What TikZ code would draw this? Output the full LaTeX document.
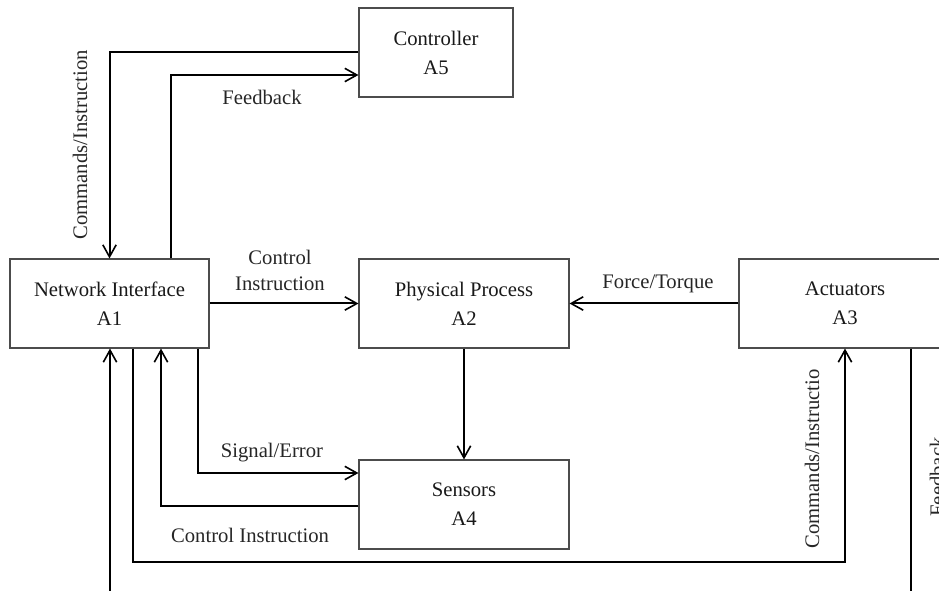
\documentclass[tikz,border=0pt]{standalone}
\usepackage{fontspec}
\setmainfont{Liberation Serif}
\usetikzlibrary{arrows.meta}
\begin{document}
\begin{tikzpicture}[x=0.75pt,y=-0.75pt,
  box/.style={draw=black!70, line width=0.8pt, fill=white, align=center, minimum height=66.75pt, inner sep=0pt,
    font=\fontsize{15.5}{21.75}\selectfont, text=black!90},
  arr/.style={line width=1.5pt, -{Straight Barb[length=9pt,width=10pt,line width=1.2pt]}},
  ln/.style={line width=1.5pt},
  lbl/.style={font=\fontsize{15.5}{19.5}\selectfont, text=black!85, align=center, inner sep=0pt}]
\useasboundingbox (0,0) rectangle (939,591);
\clip (0,0) rectangle (939,591);
\node[box, minimum width=115.5pt] (ctrl) at (436,52.5) {Controller\\A5};
\node[box, minimum width=149.25pt] (ni) at (109.5,303.5) {Network Interface\\A1};
\node[box, minimum width=157.5pt] (pp) at (464,303.5) {Physical Process\\A2};
\node[box, minimum width=159pt] (act) at (845,303.5) {Actuators\\A3};
\node[box, minimum width=157.5pt] (sen) at (464,504.5) {Sensors\\A4};
\coordinate (c1) at (845,562);
\coordinate (fbA) at (911,600);
\coordinate (fbB) at (110,600);
% Controller -> NI
\draw[arr] (ctrl.west) -| (ni.north);
% NI -> Controller feedback
\draw[arr] (171,0 |- ni.north) |- (ctrl.west |- 0,75);
% NI -> PP
\draw[arr] (ni.east) -- (pp.west);
% Actuators -> PP
\draw[arr] (act.west) -- (pp.east);
% PP -> Sensors
\draw[arr] (pp.south) -- (sen.north);
% NI -> Sensors
\draw[arr] (198,0 |- ni.south) |- (sen.west |- 0,473);
% Sensors -> NI
\draw[arr] (sen.west |- 0,505.5) -| (161,0 |- ni.south);
% NI -> Actuators
\draw[arr] (133,0 |- ni.south) |- (c1) -- (act.south);
% Actuators feedback -> NI (off page)
\draw[ln] (911,0 |- act.south) -- (fbA);
\draw[arr] (fbB) -- (ni.south -| fbB);
% labels
\node[lbl, rotate=90] at (80,145) {Commands/Instruction};
\node[lbl] at (262,97) {Feedback};
\node[lbl] at (280,270) {Control\\Instruction};
\node[lbl] at (658,284) {Force/Torque};
\node[lbl] at (272,453) {Signal/Error};
\node[lbl] at (250,535) {Control Instruction};
\node[lbl, rotate=90] at (812,459) {Commands/Instructio};
\node[lbl, rotate=90] at (937,477) {Feedback};
\end{tikzpicture}
\end{document}
